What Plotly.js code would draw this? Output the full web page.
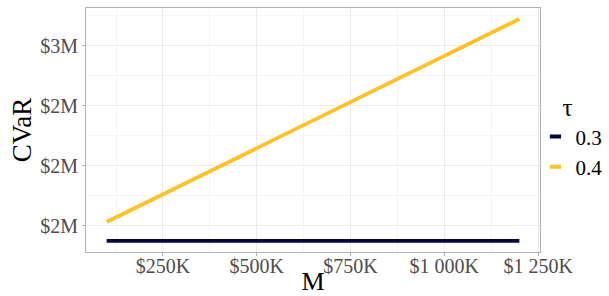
<!DOCTYPE html>
<html>
<head>
<meta charset="utf-8">
<script src="https://cdn.plot.ly/plotly-3.0.1.min.js"></script>
<style>
html,body{margin:0;padding:0;background:#fff;}
#chart{width:609px;height:296px;}
</style>
</head>
<body>
<div id="chart"></div>
<script>
// Data
const M = [100000, 400000, 700000, 1000000, 1200000];
const cvar_tau03 = [1375000, 1375000, 1375000, 1375000, 1375000];
const cvar_tau04 = [1533000, 1993000, 2453000, 2913000, 3220000];
const seriesNames = ["0.3", "0.4"];
const seriesColors = ["#05053F", "#FFC125"];

const xTickVals = [250000, 500000, 750000, 1000000, 1250000];
const xTickText = ["$250K", "$500K", "$750K", "$1 000K", "$1 250K"];
const xMinorVals = [125000, 375000, 625000, 875000, 1125000];
const yTickVals = [1500000, 2000000, 2500000, 3000000];
const yTickText = ["$2M", "$2M", "$2M", "$3M"];
const yMinorVals = [1250000, 1750000, 2250000, 2750000, 3250000];

const FONT = "'Liberation Serif', 'Times New Roman', serif";
const series = [cvar_tau03, cvar_tau04];

const traces = [];
series.forEach((ys, i) => {
  traces.push({
    x: M, y: ys, type: "scatter", mode: "lines",
    line: {color: seriesColors[i], width: 3.8},
    showlegend: false, hoverinfo: "skip"
  });
});
series.forEach((ys, i) => {
  traces.push({
    x: [null], y: [null], type: "scatter", mode: "markers",
    name: seriesNames[i],
    marker: {symbol: "line-ew-open", size: 8, color: seriesColors[i], line: {color: seriesColors[i], width: 4}},
    showlegend: true
  });
});

const xmin = 45000, xmax = 1255000;
const ymin = 1283000, ymax = 3312000;

const layout = {
  width: 609, height: 296,
  margin: {l: 86, r: 69, t: 8, b: 44, pad: 0, autoexpand: false},
  paper_bgcolor: "#fff", plot_bgcolor: "#fff",
  font: {family: FONT, color: "#000"},
  showlegend: true,
  xaxis: {
    range: [xmin, xmax], tickmode: "array", tickvals: xTickVals, ticktext: xTickText,
    ticks: "outside", ticklen: 3, tickcolor: "#B3B3B3", tickwidth: 1,
    ticklabelstandoff: -7,
    tickfont: {family: FONT, size: 20, color: "#4D4D4D"},
    showgrid: true, gridcolor: "#EBEBEB", gridwidth: 1,
    minor: {tickmode: "array", tickvals: xMinorVals, showgrid: true, gridcolor: "#F5F5F5", gridwidth: 1, ticks: ""},
    zeroline: false, showline: true, linecolor: "#B3B3B3", linewidth: 1, mirror: true,
    title: {text: "M", font: {family: FONT, size: 26, color: "#000"}, standoff: 0},
    automargin: false,
    fixedrange: true
  },
  yaxis: {
    range: [ymin, ymax], tickmode: "array", tickvals: yTickVals, ticktext: yTickText,
    ticks: "outside", ticklen: 3, tickcolor: "#B3B3B3", tickwidth: 1,
    tickfont: {family: FONT, size: 20, color: "#4D4D4D"},
    showgrid: true, gridcolor: "#EBEBEB", gridwidth: 1,
    minor: {tickmode: "array", tickvals: yMinorVals, showgrid: true, gridcolor: "#F5F5F5", gridwidth: 1, ticks: ""},
    zeroline: false, showline: true, linecolor: "#B3B3B3", linewidth: 1, mirror: true,
    title: {text: "CVaR", font: {family: FONT, size: 27, color: "#000"}, standoff: 0},
    automargin: false,
    fixedrange: true
  },
  legend: {
    x: 0.99, xanchor: "left", y: 0.689, yanchor: "top",
    bgcolor: "rgba(0,0,0,0)", borderwidth: 0,
    font: {family: FONT, size: 21, color: "#000"},
    title: {text: "\u2002\u2002τ", font: {family: FONT, size: 25, color: "#000"}},
    itemwidth: 30, tracegroupgap: 0
  }
};

Plotly.newPlot("chart", traces, layout, {displayModeBar: false, staticPlot: true});
</script>
</body>
</html>
